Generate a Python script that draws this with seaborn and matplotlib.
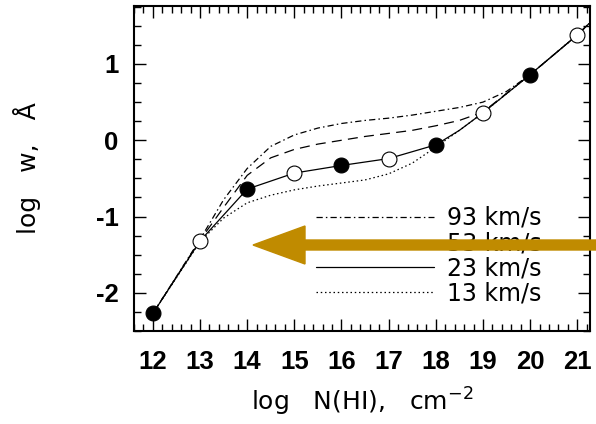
import matplotlib
matplotlib.use("Agg")
import matplotlib.pyplot as plt
from matplotlib.patches import FancyArrow
from matplotlib.transforms import IdentityTransform
import seaborn as sns
import pandas as pd

# ---- data ----
logN_points = [12, 13, 14, 15, 16, 17, 18, 19, 20, 21]
logW_points = [-2.27, -1.32, -0.64, -0.43, -0.33, -0.24, -0.06, 0.36, 0.86, 1.38]
filled_flags = [True, False, True, False, True, False, True, False, True, False]

# b = 23 km/s (solid)
x23 = [12, 13, 14, 15, 16, 17, 18, 18.5, 19, 20, 21, 21.25]
y23 = [-2.27, -1.32, -0.64, -0.43, -0.33, -0.24, -0.06, 0.13, 0.36, 0.86, 1.38, 1.53]
# b = 93 km/s (dash-dot)
x93 = [12, 13, 13.5, 14, 14.5, 15, 15.5, 16, 16.5, 17, 17.5, 18, 18.5, 19, 19.5, 20, 21, 21.25]
y93 = [-2.27, -1.30, -0.78, -0.37, -0.08, 0.07, 0.16, 0.22, 0.26, 0.29, 0.33, 0.38, 0.43, 0.50, 0.64, 0.86, 1.38, 1.53]
# b = 53 km/s (dashed)
x53 = [12, 13, 13.5, 14, 14.5, 15, 15.5, 16, 16.5, 17, 17.5, 18, 18.5, 19, 20, 21, 21.25]
y53 = [-2.27, -1.31, -0.88, -0.46, -0.23, -0.12, -0.05, 0.00, 0.05, 0.09, 0.13, 0.19, 0.26, 0.37, 0.86, 1.38, 1.53]
# b = 13 km/s (dotted)
x13 = [12, 13, 13.5, 14, 14.5, 15, 15.5, 16, 16.5, 17, 17.5, 18, 18.5, 19, 20, 21, 21.25]
y13 = [-2.27, -1.33, -1.02, -0.82, -0.72, -0.65, -0.60, -0.56, -0.52, -0.44, -0.30, -0.09, 0.13, 0.36, 0.86, 1.38, 1.53]

legend_labels = ["93 km/s", "53 km/s", "23 km/s", "13 km/s"]
x_ticks = [12, 13, 14, 15, 16, 17, 18, 19, 20, 21]
y_ticks = [-2, -1, 0, 1]

# ---- style ----
sns.set_theme(style="ticks")
plt.rcParams["font.family"] = ["Liberation Sans", "DejaVu Sans"]
plt.rcParams["mathtext.default"] = "regular"
for k in ["text.color", "axes.labelcolor", "xtick.color", "ytick.color", "axes.edgecolor"]:
    plt.rcParams[k] = "black"

W, H = 596, 424
fig = plt.figure(figsize=(W / 100, H / 100), dpi=100)
ax_l, ax_r, ax_t, ax_b = 134, 590, 6, 331
ax = fig.add_axes([ax_l / W, (H - ax_b) / H, (ax_r - ax_l) / W, (ax_b - ax_t) / H])

lw = 0.9
sns.lineplot(x=x93, y=y93, ax=ax, color="black", lw=lw, sort=False, estimator=None,
             linestyle=(0, (5, 2.5, 1.2, 2.5)), label=legend_labels[0])
sns.lineplot(x=x53, y=y53, ax=ax, color="black", lw=lw, sort=False, estimator=None,
             linestyle=(0, (8, 5)), label=legend_labels[1])
sns.lineplot(x=x23, y=y23, ax=ax, color="black", lw=lw, sort=False, estimator=None,
             linestyle="-", label=legend_labels[2])
sns.lineplot(x=x13, y=y13, ax=ax, color="black", lw=lw, sort=False, estimator=None,
             linestyle=(0, (1.2, 2.2)), label=legend_labels[3])

df = pd.DataFrame({"x": logN_points, "y": logW_points, "filled": filled_flags})
sns.scatterplot(data=df[df.filled], x="x", y="y", ax=ax, s=115, color="black",
                edgecolor="black", linewidth=0.8, zorder=5, legend=False)
sns.scatterplot(data=df[~df.filled], x="x", y="y", ax=ax, s=115, facecolor="white",
                edgecolor="black", linewidth=0.8, zorder=5, legend=False)

ax.set_xlim(11.62, 21.27)
ax.set_ylim(-2.50, 1.76)
ax.set_xticks(x_ticks)
ax.set_yticks(y_ticks)
ax.set_xticks([v / 5 for v in range(58, 107)], minor=True)
ax.set_yticks([v / 4 for v in range(-10, 8)], minor=True)
ax.set_xticklabels([str(v) for v in x_ticks], fontsize=18.5, fontweight="bold")
ax.set_yticklabels([str(v) for v in y_ticks], fontsize=18.5, fontweight="bold")
ax.tick_params(which="both", direction="in", top=True, right=True, color="black", width=1.0)
ax.tick_params(which="major", length=8.5)
ax.tick_params(axis="x", which="major", pad=14)
ax.tick_params(axis="y", which="major", pad=11)
ax.tick_params(which="minor", length=5)
for s in ax.spines.values():
    s.set_linewidth(1.5)
    s.set_color("black")

ax.set_xlabel(r"log   N(HI),   cm$^{-2}$", fontsize=18, family="DejaVu Sans")
ax.set_ylabel("log   w,   Å", fontsize=18, family="DejaVu Sans")
ax.xaxis.set_label_coords(0.5, -0.17)
ax.yaxis.set_label_coords(-0.205, 0.5)

handles = ax.get_lines()[:4]
leg = ax.legend(handles=handles, labels=legend_labels, loc="upper left",
                bbox_to_anchor=(0.40, 0.385), frameon=False,
                prop={"family": "DejaVu Sans", "size": 17},
                handlelength=5.0, handletextpad=0.55, labelspacing=0.05,
                borderpad=0, borderaxespad=0)

# gold arrow overlay
arrow = FancyArrow(596, H - 245, -343, 0, width=10, head_width=38, head_length=52,
                   length_includes_head=True, color="#C08B00", transform=IdentityTransform(),
                   zorder=10)
fig.patches.append(arrow)
arrow.set_figure(fig)

fig.savefig("out.png", dpi=100)
